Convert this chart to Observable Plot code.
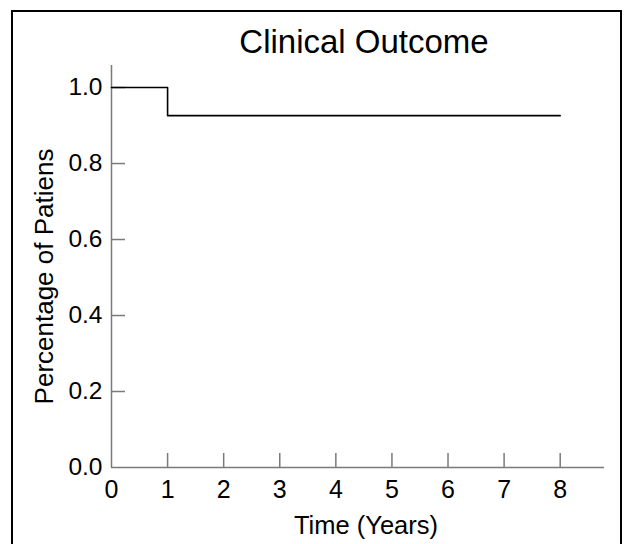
<!DOCTYPE html>
<html>
<head>
<meta charset="utf-8">
<script src="https://cdn.jsdelivr.net/npm/d3@7"></script>
<script src="https://cdn.jsdelivr.net/npm/@observablehq/plot@0.6"></script>
<style>
  html, body { margin: 0; padding: 0; background: #fff; overflow: hidden; }
  #wrap { position: relative; width: 624px; height: 544px; }
  #border { position: absolute; left: 11px; top: 10px; width: 611px; height: 600px; border: 2px solid #000; box-sizing: border-box; pointer-events: none; }
  #chart { position: absolute; left: 0; top: 0; }
</style>
</head>
<body>
<div id="wrap"><div id="chart"></div><div id="border"></div></div>
<script>
const title = "Clinical Outcome";
const xLabel = "Time (Years)";
const yLabel = "Percentage of Patiens";
const times = [0, 1, 8];
const survival = [1.0, 0.926, 0.926];
const xTicks = [0, 1, 2, 3, 4, 5, 6, 7, 8];
const yTicks = [0, 0.2, 0.4, 0.6, 0.8, 1.0];

const data = times.map((t, i) => ({t, s: survival[i]}));
const font = "Liberation Sans, Arial, Helvetica, sans-serif";
const axisColor = "#7a7a7a";

const chart = Plot.plot({
  width: 624,
  height: 544,
  marginLeft: 111,
  marginRight: 20,
  marginTop: 65,
  marginBottom: 77,
  style: {fontFamily: font, background: "transparent", color: "#000"},
  x: {domain: [0, 8.79], axis: null},
  y: {domain: [0, 1.058], axis: null},
  marks: [
    Plot.ruleX([0], {stroke: axisColor, strokeWidth: 1.5}),
    Plot.ruleY([0], {stroke: axisColor, strokeWidth: 1.5}),
    // inward ticks
    Plot.axisY({ticks: yTicks.filter(d => d > 0), tickSize: 14, dx: 14, text: null, label: null, stroke: axisColor, strokeWidth: 1.5}),
    Plot.axisX({ticks: xTicks.filter(d => d > 0), tickSize: 14, dy: -14, text: null, label: null, stroke: axisColor, strokeWidth: 1.5}),
    // tick labels
    Plot.axisY({ticks: yTicks, tickSize: 0, tickPadding: 9, tickFormat: d3.format(".1f"), label: null, fontSize: 24.5, fill: "#000"}),
    Plot.axisX({ticks: xTicks, tickSize: 0, tickPadding: 13, tickFormat: d => String(d), label: null, fontSize: 25, fill: "#000"}),
    Plot.line(data, {x: "t", y: "s", curve: "step-after", stroke: "#000", strokeWidth: 1.6}),
    Plot.text([title], {frameAnchor: "top", dy: -13, dx: 6, lineAnchor: "bottom", fontSize: 33, fill: "#000"}),
    Plot.text([xLabel], {frameAnchor: "bottom", dy: 66, dx: 8, lineAnchor: "bottom", fontSize: 25.5, fill: "#000"}),
    Plot.text([yLabel], {frameAnchor: "left", rotate: -90, dx: -59, dy: 10, lineAnchor: "bottom", textAnchor: "middle", fontSize: 26, fill: "#000"})
  ]
});
document.getElementById("chart").appendChild(chart);
</script>
</body>
</html>
